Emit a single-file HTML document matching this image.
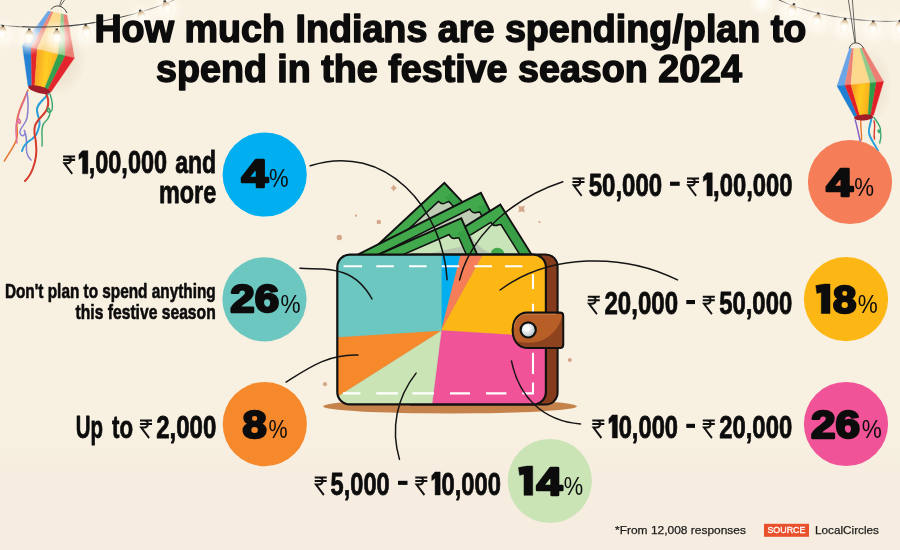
<!DOCTYPE html><html><head><meta charset="utf-8"><title>Festive spending 2024</title>
<style>html,body{margin:0;padding:0;background:#f8f0e1}svg{display:block;font-family:"Liberation Sans",sans-serif}</style></head><body>
<svg width="900" height="550" viewBox="0 0 900 550">
<defs>
<linearGradient id="bg" x1="0" y1="0" x2="0" y2="1"><stop offset="0" stop-color="#f8f0e1"/><stop offset="0.78" stop-color="#f8f0e1"/><stop offset="0.87" stop-color="#f6ede0"/><stop offset="1" stop-color="#f6ede0"/></linearGradient>
<radialGradient id="glow"><stop offset="0" stop-color="#ffffff" stop-opacity="1"/><stop offset="0.4" stop-color="#fffcf4" stop-opacity="0.75"/><stop offset="0.75" stop-color="#fffaf0" stop-opacity="0.3"/><stop offset="1" stop-color="#fffaf0" stop-opacity="0"/></radialGradient>
<radialGradient id="btn" cx="0.4" cy="0.38" r="0.7"><stop offset="0" stop-color="#ffffff"/><stop offset="0.5" stop-color="#dde5e9"/><stop offset="1" stop-color="#9fb1ba"/></radialGradient><clipPath id="wclip"><rect x="337" y="254" width="209" height="151" rx="13" ry="13"/></clipPath>
<g id="rs" fill="none" stroke="#111" stroke-width="2.05"><path d="M0,0.9H13.4M0,4.4H13.4M0,0.9H4.4C10.2,0.9 10.2,7.8 4.4,7.8H1.3L10.2,18.4"/></g>
</defs>
<rect width="900" height="550" fill="url(#bg)"/>
<g opacity="0.9999">
<defs><linearGradient id="bulbt" x1="0" y1="0" x2="0" y2="1"><stop offset="0" stop-color="#b98f5e" stop-opacity="0.75"/><stop offset="1" stop-color="#e9d3b0" stop-opacity="0"/></linearGradient><radialGradient id="bulbg" cx="0.5" cy="0.55" r="0.6"><stop offset="0" stop-color="#ffffff"/><stop offset="0.6" stop-color="#fffbf0"/><stop offset="1" stop-color="#f1e4cb"/></radialGradient><linearGradient id="lanY" x1="0" y1="0" x2="1" y2="0.2"><stop offset="0" stop-color="#f7941e"/><stop offset="0.55" stop-color="#ffcb1f"/><stop offset="1" stop-color="#fbb01c"/></linearGradient><radialGradient id="lsh"><stop offset="0" stop-color="#d9c7ae" stop-opacity="0.55"/><stop offset="1" stop-color="#d9c7ae" stop-opacity="0"/></radialGradient></defs>
<path d="M0,25 C20,27.5 45,28 60,27 C85,25 110,20 131,14.7 C148,10 162,5.5 174,0" fill="none" stroke="#3b3b3b" stroke-width="0.9"/>
<ellipse cx="60" cy="62" rx="26" ry="34" fill="url(#lsh)" transform="rotate(12 60 62)"/>
<path d="M28,90 C24,100 18,110 17,120 C16,128 19,134 16,141 C12,150 7,156 4.4,161" fill="none" stroke="#e8772e" stroke-width="1.6" stroke-linecap="round"/>
<path d="M27,92 C24,104 17,112 18,121 C19,126 22,122 19,119 C16,118 15,128 17,143" fill="none" stroke="#e06a9a" stroke-width="1.4" stroke-linecap="round"/>
<path d="M27,92 C29,104 28,112 27,118 C25,126 19,128 20,133 C22,139 27,134 24,130 C30,140 22,152 31,160" fill="none" stroke="#8a80d2" stroke-width="1.5" stroke-linecap="round"/>
<path d="M48,94 C44,100 36,104 37,111 C38,118 41,121 39,127 C37,134 36,136 32,139 C27,142 23,146 22,151" fill="none" stroke="#2aa0d8" stroke-width="2.0" stroke-linecap="round"/>
<path d="M45,92 C49,98 49,104 47,109 C44,116 37,119 35,126 C33,133 36,138 36,144 C37,152 36,160 33,168 C31,174 28,178 25,181" fill="none" stroke="#d7392b" stroke-width="2.0" stroke-linecap="round"/>
<path d="M50,94 C52,100 53,106 52,110 C50,114 46,112 48,108 C52,110 50,118 44,123 C40,128 43,138 42,146" fill="none" stroke="#3aa66a" stroke-width="1.4" stroke-linecap="round"/>
<g opacity="0.97"><polygon points="48.0,11.0 51.1,11.7 31.0,47.6 22.4,45.6" fill="#6aa5e8" stroke="#6aa5e8" stroke-width="0.3"/><polygon points="22.4,45.6 31.0,47.6 31.8,87.0 28.0,86.0" fill="#1f7fd3" stroke="#1f7fd3" stroke-width="0.3"/><polygon points="51.1,11.7 53.4,12.1 37.2,49.1 31.0,47.6" fill="#ec8277" stroke="#ec8277" stroke-width="0.3"/><polygon points="31.0,47.6 37.2,49.1 34.6,87.7 31.8,87.0" fill="#e21f27" stroke="#e21f27" stroke-width="0.3"/><polygon points="53.4,12.1 61.1,13.8 58.3,54.2 37.2,49.1" fill="#fcd98c" stroke="#fcd98c" stroke-width="0.3"/><polygon points="37.2,49.1 58.3,54.2 43.9,90.1 34.6,87.7" fill="url(#lanY)" stroke="#f9a51c" stroke-width="0.3"/><polygon points="61.1,13.8 63.7,14.3 65.3,55.8 58.3,54.2" fill="#8fca8b" stroke="#8fca8b" stroke-width="0.3"/><polygon points="58.3,54.2 65.3,55.8 47.0,91.0 43.9,90.1" fill="#2e9e49" stroke="#2e9e49" stroke-width="0.3"/><polygon points="63.7,14.3 67.0,15.0 74.4,58.0 65.3,55.8" fill="#eb7d73" stroke="#eb7d73" stroke-width="0.3"/><polygon points="65.3,55.8 74.4,58.0 51.0,92.0 47.0,91.0" fill="#e21f27" stroke="#e21f27" stroke-width="0.3"/></g>
<ellipse cx="39.5" cy="89.6" rx="11.5" ry="3.4" fill="#a01d2a" transform="rotate(14 39.5 89)"/>
<path d="M64.5,0 L60.5,5.8 M61.5,0 L59.5,5.8" stroke="#444" stroke-width="0.8" fill="none"/>
<path d="M51,9.5 C54,4.5 63,4 67,13" stroke="#444" stroke-width="1" fill="none"/>
<circle cx="2.4" cy="34" r="18" fill="url(#glow)"/><g transform="translate(2.4,32.4) rotate(4) scale(1.13)"><rect x="-1.1" y="-6.6" width="2.2" height="2" fill="#3a3a3a"/><path d="M-1.6,-4.8 C-4.4,-2 -4.8,3 -2.3,5.8 Q0,7.4 2.3,5.8 C4.8,3 4.4,-2 1.6,-4.8 Z" fill="url(#bulbg)"/><path d="M-1.6,-4.8 C-3,-3.4 -3.8,-1.8 -4.1,-0.2 H4.1 C3.8,-1.8 3,-3.4 1.6,-4.8 Z" fill="url(#bulbt)"/></g>
<circle cx="29" cy="37.5" r="18" fill="url(#glow)"/><g transform="translate(29,35.9) rotate(2) scale(1.13)"><rect x="-1.1" y="-6.6" width="2.2" height="2" fill="#3a3a3a"/><path d="M-1.6,-4.8 C-4.4,-2 -4.8,3 -2.3,5.8 Q0,7.4 2.3,5.8 C4.8,3 4.4,-2 1.6,-4.8 Z" fill="url(#bulbg)"/><path d="M-1.6,-4.8 C-3,-3.4 -3.8,-1.8 -4.1,-0.2 H4.1 C3.8,-1.8 3,-3.4 1.6,-4.8 Z" fill="url(#bulbt)"/></g>
<circle cx="57" cy="37.5" r="18" fill="url(#glow)"/><g transform="translate(57,35.9) rotate(-2) scale(1.13)"><rect x="-1.1" y="-6.6" width="2.2" height="2" fill="#3a3a3a"/><path d="M-1.6,-4.8 C-4.4,-2 -4.8,3 -2.3,5.8 Q0,7.4 2.3,5.8 C4.8,3 4.4,-2 1.6,-4.8 Z" fill="url(#bulbg)"/><path d="M-1.6,-4.8 C-3,-3.4 -3.8,-1.8 -4.1,-0.2 H4.1 C3.8,-1.8 3,-3.4 1.6,-4.8 Z" fill="url(#bulbt)"/></g>
<circle cx="86.5" cy="33" r="18" fill="url(#glow)"/><g transform="translate(86.5,31.4) rotate(-8) scale(1.13)"><rect x="-1.1" y="-6.6" width="2.2" height="2" fill="#3a3a3a"/><path d="M-1.6,-4.8 C-4.4,-2 -4.8,3 -2.3,5.8 Q0,7.4 2.3,5.8 C4.8,3 4.4,-2 1.6,-4.8 Z" fill="url(#bulbg)"/><path d="M-1.6,-4.8 C-3,-3.4 -3.8,-1.8 -4.1,-0.2 H4.1 C3.8,-1.8 3,-3.4 1.6,-4.8 Z" fill="url(#bulbt)"/></g>
<circle cx="142" cy="18.5" r="18" fill="url(#glow)"/><g transform="translate(142,16.9) rotate(-16) scale(1.13)"><rect x="-1.1" y="-6.6" width="2.2" height="2" fill="#3a3a3a"/><path d="M-1.6,-4.8 C-4.4,-2 -4.8,3 -2.3,5.8 Q0,7.4 2.3,5.8 C4.8,3 4.4,-2 1.6,-4.8 Z" fill="url(#bulbg)"/><path d="M-1.6,-4.8 C-3,-3.4 -3.8,-1.8 -4.1,-0.2 H4.1 C3.8,-1.8 3,-3.4 1.6,-4.8 Z" fill="url(#bulbt)"/></g>
<circle cx="166.9" cy="9" r="18" fill="url(#glow)"/><g transform="translate(166.9,7.4) rotate(-20) scale(1.13)"><rect x="-1.1" y="-6.6" width="2.2" height="2" fill="#3a3a3a"/><path d="M-1.6,-4.8 C-4.4,-2 -4.8,3 -2.3,5.8 Q0,7.4 2.3,5.8 C4.8,3 4.4,-2 1.6,-4.8 Z" fill="url(#bulbg)"/><path d="M-1.6,-4.8 C-3,-3.4 -3.8,-1.8 -4.1,-0.2 H4.1 C3.8,-1.8 3,-3.4 1.6,-4.8 Z" fill="url(#bulbt)"/></g>
<path d="M22,26.6 C45,28 75,26 95,22.5" fill="none" stroke="#3b3b3b" stroke-width="0.9"/>
<path d="M779,0 C790,5 803,9.5 817,13 C835,17 855,20 873,21 C885,21.6 893,21.5 900,21" fill="none" stroke="#3b3b3b" stroke-width="0.9"/>
<circle cx="762" cy="2" r="15" fill="url(#glow)"/>
<circle cx="792" cy="12" r="18" fill="url(#glow)"/><g transform="translate(792,10.4) rotate(18) scale(1.13)"><rect x="-1.1" y="-6.6" width="2.2" height="2" fill="#3a3a3a"/><path d="M-1.6,-4.8 C-4.4,-2 -4.8,3 -2.3,5.8 Q0,7.4 2.3,5.8 C4.8,3 4.4,-2 1.6,-4.8 Z" fill="url(#bulbg)"/><path d="M-1.6,-4.8 C-3,-3.4 -3.8,-1.8 -4.1,-0.2 H4.1 C3.8,-1.8 3,-3.4 1.6,-4.8 Z" fill="url(#bulbt)"/></g>
<circle cx="817" cy="21.5" r="18" fill="url(#glow)"/><g transform="translate(817,19.9) rotate(12) scale(1.13)"><rect x="-1.1" y="-6.6" width="2.2" height="2" fill="#3a3a3a"/><path d="M-1.6,-4.8 C-4.4,-2 -4.8,3 -2.3,5.8 Q0,7.4 2.3,5.8 C4.8,3 4.4,-2 1.6,-4.8 Z" fill="url(#bulbg)"/><path d="M-1.6,-4.8 C-3,-3.4 -3.8,-1.8 -4.1,-0.2 H4.1 C3.8,-1.8 3,-3.4 1.6,-4.8 Z" fill="url(#bulbt)"/></g>
<circle cx="844.4" cy="27" r="18" fill="url(#glow)"/><g transform="translate(844.4,25.4) rotate(6) scale(1.13)"><rect x="-1.1" y="-6.6" width="2.2" height="2" fill="#3a3a3a"/><path d="M-1.6,-4.8 C-4.4,-2 -4.8,3 -2.3,5.8 Q0,7.4 2.3,5.8 C4.8,3 4.4,-2 1.6,-4.8 Z" fill="url(#bulbg)"/><path d="M-1.6,-4.8 C-3,-3.4 -3.8,-1.8 -4.1,-0.2 H4.1 C3.8,-1.8 3,-3.4 1.6,-4.8 Z" fill="url(#bulbt)"/></g>
<circle cx="873" cy="29.5" r="18" fill="url(#glow)"/><g transform="translate(873,27.9) rotate(2) scale(1.13)"><rect x="-1.1" y="-6.6" width="2.2" height="2" fill="#3a3a3a"/><path d="M-1.6,-4.8 C-4.4,-2 -4.8,3 -2.3,5.8 Q0,7.4 2.3,5.8 C4.8,3 4.4,-2 1.6,-4.8 Z" fill="url(#bulbg)"/><path d="M-1.6,-4.8 C-3,-3.4 -3.8,-1.8 -4.1,-0.2 H4.1 C3.8,-1.8 3,-3.4 1.6,-4.8 Z" fill="url(#bulbt)"/></g>
<circle cx="900" cy="29" r="18" fill="url(#glow)"/><g transform="translate(900,27.4) rotate(0) scale(1.13)"><rect x="-1.1" y="-6.6" width="2.2" height="2" fill="#3a3a3a"/><path d="M-1.6,-4.8 C-4.4,-2 -4.8,3 -2.3,5.8 Q0,7.4 2.3,5.8 C4.8,3 4.4,-2 1.6,-4.8 Z" fill="url(#bulbg)"/><path d="M-1.6,-4.8 C-3,-3.4 -3.8,-1.8 -4.1,-0.2 H4.1 C3.8,-1.8 3,-3.4 1.6,-4.8 Z" fill="url(#bulbt)"/></g>
<ellipse cx="868" cy="86" rx="24" ry="38" fill="url(#lsh)"/>
<path d="M855.2,120 C857,126 858,131 859,136 C860,139 860,141 860.5,143" fill="none" stroke="#8a63c9" stroke-width="1.5" stroke-linecap="round"/>
<path d="M861,119 C860,126 862,132 861.5,140" fill="none" stroke="#e8772e" stroke-width="1.4" stroke-linecap="round"/>
<path d="M871.5,117.5 C871,124 868,128 869,133 C870,139 875,144 878,151" fill="none" stroke="#2aa0d8" stroke-width="2.0" stroke-linecap="round"/>
<path d="M874,121 C876,127 873,133 874.5,139" fill="none" stroke="#d7392b" stroke-width="1.4" stroke-linecap="round"/>
<path d="M874,117.5 C877,122 881,126 880.5,131 C880,134 877,132 878.5,130 C882,131 881,138 879.7,143" fill="none" stroke="#3aa66a" stroke-width="1.4" stroke-linecap="round"/>
<polygon points="849.4,48.6 851.9,48.5 844.9,85.2 837.0,86.0" fill="#6aa5e8" stroke="#6aa5e8" stroke-width="0.3"/><polygon points="837.0,86.0 844.9,85.2 857.5,116.5 854.2,116.8" fill="#1f7fd3" stroke="#1f7fd3" stroke-width="0.3"/><polygon points="851.9,48.5 853.8,48.4 851.0,84.7 844.9,85.2" fill="#ec8277" stroke="#ec8277" stroke-width="0.3"/><polygon points="844.9,85.2 851.0,84.7 860.0,116.3 857.5,116.5" fill="#e21f27" stroke="#e21f27" stroke-width="0.3"/><polygon points="853.8,48.4 859.8,48.2 870.1,82.8 851.0,84.7" fill="#fcd98c" stroke="#fcd98c" stroke-width="0.3"/><polygon points="851.0,84.7 870.1,82.8 868.0,115.7 860.0,116.3" fill="url(#lanY)" stroke="#f9a51c" stroke-width="0.3"/><polygon points="859.8,48.2 861.7,48.1 876.4,82.2 870.1,82.8" fill="#8fca8b" stroke="#8fca8b" stroke-width="0.3"/><polygon points="870.1,82.8 876.4,82.2 870.6,115.4 868.0,115.7" fill="#2e9e49" stroke="#2e9e49" stroke-width="0.3"/><polygon points="861.7,48.1 864.0,48.0 883.6,81.5 876.4,82.2" fill="#eb7d73" stroke="#eb7d73" stroke-width="0.3"/><polygon points="876.4,82.2 883.6,81.5 873.6,115.2 870.6,115.4" fill="#e21f27" stroke="#e21f27" stroke-width="0.3"/>
<ellipse cx="863.6" cy="117.4" rx="9.6" ry="3" fill="#a01d2a" transform="rotate(-4 863.6 117)"/>
<path d="M848.4,0 L855,43 M852.4,0 L855.6,43" stroke="#444" stroke-width="0.8" fill="none"/>
<path d="M849.2,48.6 C851,41 860,41 863.6,48.2" stroke="#444" stroke-width="1" fill="none"/>
<circle cx="355.9" cy="215.7" r="1.1" fill="#d5a88b"/>
<circle cx="378.8" cy="222" r="2.3" fill="#d5a88b"/>
<circle cx="339.3" cy="237.5" r="2.7" fill="#d5a88b"/>
<circle cx="539.5" cy="222" r="1.1" fill="#d5a88b"/>
<circle cx="569.8" cy="360" r="2.1" fill="#d5a88b"/>
<circle cx="325" cy="384.2" r="2.1" fill="#d5a88b"/>
<path transform="translate(393.7,188) rotate(0)" d="M0,-3.4 Q1.02,-1.02 3.4,0 Q1.02,1.02 0,3.4 Q-1.02,1.02 -3.4,0 Q-1.02,-1.02 0,-3.4Z" fill="#d5a88b"/>
<path transform="translate(521.6,209) rotate(45)" d="M0,-5.0 Q1.0,-1.0 5.0,0 Q1.0,1.0 0,5.0 Q-1.0,1.0 -5.0,0 Q-1.0,-1.0 0,-5.0Z" fill="#d5a88b"/>
<text x="94.4" y="42.3" font-size="38.8" font-weight="bold" fill="#0c0c0c" text-anchor="start" textLength="712.0" lengthAdjust="spacingAndGlyphs" stroke="#0c0c0c" stroke-width="1.5" stroke-linejoin="round">How much Indians are spending/plan to</text>
<text x="156.0" y="81.9" font-size="38.8" font-weight="bold" fill="#0c0c0c" text-anchor="start" textLength="586.0" lengthAdjust="spacingAndGlyphs" stroke="#0c0c0c" stroke-width="1.5" stroke-linejoin="round">spend in the festive season 2024</text>
<circle cx="264.7" cy="174.5" r="42.1" fill="#00aeef"/>
<text x="241.6" y="187.2" font-size="38.8" font-weight="bold" fill="#0c0c0c" text-anchor="start" textLength="26.6" lengthAdjust="spacingAndGlyphs" stroke="#0c0c0c" stroke-width="2.4" stroke-linejoin="round">4</text>
<text x="268.9" y="187.3" font-size="25.2" font-weight="normal" fill="#0c0c0c" text-anchor="start" textLength="19.6" lengthAdjust="spacingAndGlyphs">%</text>
<circle cx="264.5" cy="299.3" r="42.1" fill="#6cc7c0"/>
<text x="230.3" y="312.4" font-size="38.8" font-weight="bold" fill="#0c0c0c" text-anchor="start" textLength="48.8" lengthAdjust="spacingAndGlyphs" stroke="#0c0c0c" stroke-width="2.4" stroke-linejoin="round">26</text>
<text x="280.4" y="312.5" font-size="25.2" font-weight="normal" fill="#0c0c0c" text-anchor="start" textLength="20.1" lengthAdjust="spacingAndGlyphs">%</text>
<circle cx="264.8" cy="424.1" r="42.1" fill="#f7892d"/>
<text x="242.5" y="437.5" font-size="38.8" font-weight="bold" fill="#0c0c0c" text-anchor="start" textLength="24.2" lengthAdjust="spacingAndGlyphs" stroke="#0c0c0c" stroke-width="2.4" stroke-linejoin="round">8</text>
<text x="268.4" y="437.6" font-size="25.2" font-weight="normal" fill="#0c0c0c" text-anchor="start" textLength="19.1" lengthAdjust="spacingAndGlyphs">%</text>
<circle cx="549.8" cy="481" r="42.1" fill="#cae4b6"/>
<polygon points="518.50,467.59 527.10,466.10 532.70,466.10 532.70,495.30 524.00,495.30 524.00,474.24 519.60,475.34" fill="#0c0c0c" stroke="#0c0c0c" stroke-width="0.5" stroke-linejoin="round"/>
<text x="536.4" y="494.7" font-size="38.8" font-weight="bold" fill="#0c0c0c" text-anchor="start" textLength="25.9" lengthAdjust="spacingAndGlyphs" stroke="#0c0c0c" stroke-width="2.4" stroke-linejoin="round">4</text>
<text x="563.8" y="494.8" font-size="25.2" font-weight="normal" fill="#0c0c0c" text-anchor="start" textLength="19.4" lengthAdjust="spacingAndGlyphs">%</text>
<circle cx="850" cy="182" r="42.1" fill="#f57d58"/>
<text x="826.2" y="195.6" font-size="38.8" font-weight="bold" fill="#0c0c0c" text-anchor="start" textLength="26.7" lengthAdjust="spacingAndGlyphs" stroke="#0c0c0c" stroke-width="2.4" stroke-linejoin="round">4</text>
<text x="854.3" y="195.7" font-size="25.2" font-weight="normal" fill="#0c0c0c" text-anchor="start" textLength="19.8" lengthAdjust="spacingAndGlyphs">%</text>
<circle cx="846" cy="299.2" r="42.1" fill="#fdb715"/>
<polygon points="815.80,285.60 824.40,284.10 830.00,284.10 830.00,313.50 821.30,313.50 821.30,292.30 816.90,293.40" fill="#0c0c0c" stroke="#0c0c0c" stroke-width="0.5" stroke-linejoin="round"/>
<text x="832.9" y="312.9" font-size="38.8" font-weight="bold" fill="#0c0c0c" text-anchor="start" textLength="23.4" lengthAdjust="spacingAndGlyphs" stroke="#0c0c0c" stroke-width="2.4" stroke-linejoin="round">8</text>
<text x="857.7" y="313.0" font-size="25.2" font-weight="normal" fill="#0c0c0c" text-anchor="start" textLength="20.0" lengthAdjust="spacingAndGlyphs">%</text>
<circle cx="846" cy="424" r="42.1" fill="#f05398"/>
<text x="811.1" y="437.7" font-size="38.8" font-weight="bold" fill="#0c0c0c" text-anchor="start" textLength="49.0" lengthAdjust="spacingAndGlyphs" stroke="#0c0c0c" stroke-width="2.4" stroke-linejoin="round">26</text>
<text x="861.7" y="437.8" font-size="25.2" font-weight="normal" fill="#0c0c0c" text-anchor="start" textLength="20.0" lengthAdjust="spacingAndGlyphs">%</text>
<g>
<g transform="matrix(-0.7314,0.6820,0.6820,0.7314,444.4,182.8)"><rect x="0" y="0" width="120" height="70" fill="#41a84c" stroke="#111" stroke-width="2" stroke-linejoin="miter"/><rect x="0.8" y="11.4" width="8.6" height="70" fill="#2f9440" opacity="0.45"/><path d="M120,9.5 H17.0 Q17.3,15.0 11.7,15.7 L9.5,16.7 V70 H120 Z" fill="#bfcdb5" stroke="#111" stroke-width="1.5" stroke-linejoin="round"/></g>
<g transform="matrix(-0.8942,0.4478,0.4478,0.8942,480.9,192.9)"><rect x="0" y="0" width="140" height="70" fill="#41a84c" stroke="#111" stroke-width="2" stroke-linejoin="miter"/><rect x="0.8" y="11.4" width="8.6" height="70" fill="#2f9440" opacity="0.45"/><path d="M140,9.5 H17.0 Q17.3,15.0 11.7,15.7 L9.5,16.7 V70 H140 Z" fill="#bfcdb5" stroke="#111" stroke-width="1.5" stroke-linejoin="round"/></g>
<g transform="matrix(-0.8480,0.5299,0.5299,0.8480,500.3,204.6)"><rect x="0" y="0" width="120" height="70" fill="#41a84c" stroke="#111" stroke-width="2" stroke-linejoin="miter"/><rect x="0.8" y="12.0" width="9.0" height="70" fill="#2f9440" opacity="0.45"/><path d="M120,10 H17.5 Q17.8,15.5 12.2,16.2 L10,17.2 V70 H120 Z" fill="#c9e4b8" stroke="#111" stroke-width="1.5" stroke-linejoin="round"/><circle cx="29" cy="41" r="7" fill="#41a84c"/></g>
<path d="M468.6,236.6 L471.2,235.2 C474.5,243 482,250 493,254 L478.5,254 C474,249 471,243 468.6,236.6 Z" fill="#b7c6ae"/>
<g transform="matrix(-0.9164,0.4003,0.4003,0.9164,461.3,218.3)"><rect x="0" y="0" width="110" height="60" fill="#41a84c" stroke="#111" stroke-width="2" stroke-linejoin="miter"/><rect x="0.8" y="12.0" width="9.0" height="60" fill="#2f9440" opacity="0.45"/><path d="M110,10 H17.5 Q17.8,15.5 12.2,16.2 L10,17.2 V60 H110 Z" fill="#c9e4b8" stroke="#111" stroke-width="1.5" stroke-linejoin="round"/></g>
<path d="M427,254 L461.6,246.6 L464.8,254 Z" fill="#b7c6ae"/>
</g>
<ellipse cx="450" cy="406.3" rx="127" ry="7.2" fill="#c5824a"/>
<rect x="400" y="254.4" width="157.6" height="150.2" rx="12" ry="12" fill="#853c1c" stroke="#111" stroke-width="2"/>
<g clip-path="url(#wclip)">
<rect x="330" y="250" width="225" height="160" fill="#6cc7c0"/>
<polygon points="441.3,330.5 441.3,130.5 453.9,130.9 466.4,132.1 478.8,134.0 491.0,136.8" fill="#00aeef" stroke="#00aeef" stroke-width="0.4"/>
<polygon points="441.3,330.5 491.0,136.8 503.1,140.3 514.9,144.5 526.5,149.5 537.7,155.2" fill="#f57d58" stroke="#f57d58" stroke-width="0.4"/>
<polygon points="441.3,330.5 537.7,155.2 548.5,161.6 558.9,168.7 568.8,176.4 578.2,184.7 587.1,193.6 595.4,203.0 603.1,212.9 610.2,223.3 616.6,234.1 622.3,245.3 627.3,256.9 631.5,268.7 635.0,280.8 637.8,293.0 639.7,305.4 640.9,317.9 641.3,330.5 640.9,343.1" fill="#fdb715" stroke="#fdb715" stroke-width="0.4"/>
<polygon points="441.3,330.5 640.9,343.1 639.7,355.6 637.8,368.0 635.0,380.2 631.5,392.3 627.3,404.1 622.3,415.7 616.6,426.9 610.2,437.7 603.1,448.1 595.4,458.0 587.1,467.4 578.2,476.3 568.8,484.6 558.9,492.3 548.5,499.4 537.7,505.8 526.5,511.5 514.9,516.5 503.1,520.7 491.0,524.2 478.8,527.0 466.4,528.9 453.9,530.1 441.3,530.5 428.7,530.1 416.2,528.9" fill="#f05398" stroke="#f05398" stroke-width="0.4"/>
<polygon points="441.3,330.5 416.2,528.9 403.8,527.0 391.6,524.2 379.5,520.7 367.7,516.5 356.1,511.5 344.9,505.8 334.1,499.4 323.7,492.3 313.8,484.6 304.4,476.3 295.5,467.4 287.2,458.0 279.5,448.1 272.4,437.7" fill="#cae4b6" stroke="#cae4b6" stroke-width="0.4"/>
<polygon points="441.3,330.5 272.4,437.7 266.0,426.9 260.3,415.7 255.3,404.1 251.1,392.3 247.6,380.2 244.8,368.0 242.9,355.6 241.7,343.1" fill="#f7892d" stroke="#f7892d" stroke-width="0.4"/>
<polygon points="441.3,330.5 241.7,343.1 241.3,330.5 241.7,317.9 242.9,305.4 244.8,293.0 247.6,280.8 251.1,268.7 255.3,256.9 260.3,245.3 266.0,234.1 272.4,223.3 279.5,212.9 287.2,203.0 295.5,193.6 304.4,184.7 313.8,176.4 323.7,168.7 334.1,161.6 344.9,155.2 356.1,149.5 367.7,144.5 379.5,140.3 391.6,136.8 403.8,134.0 416.2,132.1 428.7,130.9 441.3,130.5" fill="#6cc7c0" stroke="#6cc7c0" stroke-width="0.4"/>
</g>
<rect x="337.3" y="254.6" width="208.6" height="149.8" rx="12.5" ry="12.5" fill="none" stroke="#111" stroke-width="2.2"/>
<path d="M343.6,266.2H362M376.3,266.2H393.8M409,266.2H426.5M441.7,266.2H459.2M474.4,266.2H491.9M505,266.2H522.4M343,393.4H360.5M376.3,393.4H398M412.4,393.4H434M450,393.4H470M486,393.4H506.4M522.3,393.4H533M533,274.3V289M533,303.8V312M533,352.8V374M533,382.5V394.4" stroke="#fff" stroke-width="2.1" fill="none"/>
<path d="M527,312.6 H560 Q563.2,312.6 563.2,315.8 V344.7 Q563.2,347.9 560,347.9 H527 C518,347.9 512.6,340 512.6,330.2 C512.6,320.5 518,312.6 527,312.6 Z" fill="#b85f28" stroke="#111" stroke-width="2.1"/>
<path d="M562.1,316.5 V344.6 Q562.1,346.8 559.8,346.8 H528 Q521,346.4 517,341.5 Q536,345.5 548,337 Q559,329 562.1,316.5 Z" fill="#8e431f"/>
<path d="M514.2,327 C515,319 520,314.3 527,314.2 H556" fill="none" stroke="#d08a58" stroke-width="0.9" opacity="0.8"/>
<circle cx="528.2" cy="329.9" r="7.6" fill="url(#btn)" stroke="#111" stroke-width="2.2"/>
<circle cx="526.6" cy="328.2" r="3.4" fill="#fff" opacity="0.9"/>
<path d="M310.2,165.8C386.0,141.3 443.2,208.9 447.1,279.8" fill="none" stroke="#151515" stroke-width="1.5" stroke-linecap="round"/>
<path d="M562.8,181.7C517.1,196.8 471.8,231.3 459.6,279.9" fill="none" stroke="#151515" stroke-width="1.5" stroke-linecap="round"/>
<path d="M300.0,268.3C331.8,269.0 354.8,267.8 372.0,299.0" fill="none" stroke="#151515" stroke-width="1.5" stroke-linecap="round"/>
<path d="M677.5,279.9C623.4,252.9 549.6,253.3 500.1,290.0" fill="none" stroke="#151515" stroke-width="1.5" stroke-linecap="round"/>
<path d="M286.1,382.1C309.9,367.1 328.2,354.1 357.9,355.1" fill="none" stroke="#151515" stroke-width="1.5" stroke-linecap="round"/>
<path d="M399.5,459.4C390.5,428.6 396.4,398.1 416.1,373.1" fill="none" stroke="#151515" stroke-width="1.5" stroke-linecap="round"/>
<path d="M580.5,424.0C543.4,421.1 518.8,397.4 511.5,360.9" fill="none" stroke="#151515" stroke-width="1.5" stroke-linecap="round"/>
<use href="#rs" transform="translate(63.1,155.5) scale(0.896,0.995)"/>
<polygon points="82.40,150.70 87.90,150.70 87.90,173.80 82.50,173.80 82.50,157.10 78.90,159.50 78.90,154.60" fill="#0c0c0c" stroke="#0c0c0c" stroke-width="0.4" stroke-linejoin="round"/>
<text x="88.7" y="173.4" font-size="31.9" font-weight="bold" fill="#0c0c0c" text-anchor="start" textLength="78.4" lengthAdjust="spacingAndGlyphs" stroke="#0c0c0c" stroke-width="0.8" stroke-linejoin="round">,00,000</text>
<text x="175.2" y="173.4" font-size="31.9" font-weight="bold" fill="#0c0c0c" text-anchor="start" textLength="41.0" lengthAdjust="spacingAndGlyphs" stroke="#0c0c0c" stroke-width="0.8" stroke-linejoin="round">and</text>
<text x="158.9" y="203.4" font-size="31.9" font-weight="bold" fill="#0c0c0c" text-anchor="start" textLength="57.3" lengthAdjust="spacingAndGlyphs" stroke="#0c0c0c" stroke-width="0.8" stroke-linejoin="round">more</text>
<text x="4.9" y="297.5" font-size="20.6" font-weight="bold" fill="#0c0c0c" text-anchor="start" textLength="210.8" lengthAdjust="spacingAndGlyphs" stroke="#0c0c0c" stroke-width="0.6" stroke-linejoin="round">Don't plan to spend anything</text>
<text x="75.6" y="319.2" font-size="20.6" font-weight="bold" fill="#0c0c0c" text-anchor="start" textLength="140.1" lengthAdjust="spacingAndGlyphs" stroke="#0c0c0c" stroke-width="0.6" stroke-linejoin="round">this festive season</text>
<text x="75.8" y="437.6" font-size="31.9" font-weight="bold" fill="#0c0c0c" text-anchor="start" textLength="27.2" lengthAdjust="spacingAndGlyphs" stroke="#0c0c0c" stroke-width="0.8" stroke-linejoin="round">Up</text>
<text x="112.0" y="437.6" font-size="31.9" font-weight="bold" fill="#0c0c0c" text-anchor="start" textLength="21.0" lengthAdjust="spacingAndGlyphs" stroke="#0c0c0c" stroke-width="0.8" stroke-linejoin="round">to</text>
<use href="#rs" transform="translate(140.0,419.7) scale(0.896,0.995)"/>
<text x="156.2" y="437.6" font-size="31.9" font-weight="bold" fill="#0c0c0c" text-anchor="start" textLength="60.1" lengthAdjust="spacingAndGlyphs" stroke="#0c0c0c" stroke-width="0.8" stroke-linejoin="round">2,000</text>
<use href="#rs" transform="translate(314.7,476.7) scale(0.896,0.995)"/>
<text x="330.6" y="494.6" font-size="31.9" font-weight="bold" fill="#0c0c0c" text-anchor="start" textLength="59.1" lengthAdjust="spacingAndGlyphs" stroke="#0c0c0c" stroke-width="0.8" stroke-linejoin="round">5,000</text>
<rect x="398.0" y="480.8" width="9.5" height="4.1" fill="#0c0c0c"/>
<use href="#rs" transform="translate(415.3,476.7) scale(0.896,0.995)"/>
<polygon points="435.01,471.90 440.20,471.90 440.20,495.00 435.10,495.00 435.10,478.30 431.70,480.70 431.70,475.80" fill="#0c0c0c" stroke="#0c0c0c" stroke-width="0.4" stroke-linejoin="round"/>
<text x="441.5" y="494.6" font-size="31.9" font-weight="bold" fill="#0c0c0c" text-anchor="start" textLength="59.5" lengthAdjust="spacingAndGlyphs" stroke="#0c0c0c" stroke-width="0.8" stroke-linejoin="round">0,000</text>
<use href="#rs" transform="translate(572.5,177.6) scale(0.896,0.995)"/>
<text x="588.7" y="195.5" font-size="31.9" font-weight="bold" fill="#0c0c0c" text-anchor="start" textLength="73.5" lengthAdjust="spacingAndGlyphs" stroke="#0c0c0c" stroke-width="0.8" stroke-linejoin="round">50,000</text>
<rect x="670.0" y="181.7" width="9.7" height="4.1" fill="#0c0c0c"/>
<use href="#rs" transform="translate(687.0,177.6) scale(0.896,0.995)"/>
<polygon points="706.80,172.80 712.30,172.80 712.30,195.90 706.90,195.90 706.90,179.20 703.30,181.60 703.30,176.70" fill="#0c0c0c" stroke="#0c0c0c" stroke-width="0.4" stroke-linejoin="round"/>
<text x="713.1" y="195.5" font-size="31.9" font-weight="bold" fill="#0c0c0c" text-anchor="start" textLength="79.4" lengthAdjust="spacingAndGlyphs" stroke="#0c0c0c" stroke-width="0.8" stroke-linejoin="round">,00,000</text>
<use href="#rs" transform="translate(587.8,295.9) scale(0.896,0.995)"/>
<text x="604.5" y="313.8" font-size="31.9" font-weight="bold" fill="#0c0c0c" text-anchor="start" textLength="73.5" lengthAdjust="spacingAndGlyphs" stroke="#0c0c0c" stroke-width="0.8" stroke-linejoin="round">20,000</text>
<rect x="686.3" y="300.0" width="8.7" height="4.1" fill="#0c0c0c"/>
<use href="#rs" transform="translate(702.8,295.9) scale(0.896,0.995)"/>
<text x="719.2" y="313.8" font-size="31.9" font-weight="bold" fill="#0c0c0c" text-anchor="start" textLength="73.0" lengthAdjust="spacingAndGlyphs" stroke="#0c0c0c" stroke-width="0.8" stroke-linejoin="round">50,000</text>
<use href="#rs" transform="translate(592.3,419.7) scale(0.896,0.995)"/>
<polygon points="612.21,414.90 617.40,414.90 617.40,438.00 612.30,438.00 612.30,421.30 608.90,423.70 608.90,418.80" fill="#0c0c0c" stroke="#0c0c0c" stroke-width="0.4" stroke-linejoin="round"/>
<text x="618.7" y="437.6" font-size="31.9" font-weight="bold" fill="#0c0c0c" text-anchor="start" textLength="59.3" lengthAdjust="spacingAndGlyphs" stroke="#0c0c0c" stroke-width="0.8" stroke-linejoin="round">0,000</text>
<rect x="686.3" y="423.8" width="8.7" height="4.1" fill="#0c0c0c"/>
<use href="#rs" transform="translate(702.8,419.7) scale(0.896,0.995)"/>
<text x="719.2" y="437.6" font-size="31.9" font-weight="bold" fill="#0c0c0c" text-anchor="start" textLength="73.0" lengthAdjust="spacingAndGlyphs" stroke="#0c0c0c" stroke-width="0.8" stroke-linejoin="round">20,000</text>
<text x="615.0" y="534.3" font-size="11.2" font-weight="normal" fill="#1c1c1c" text-anchor="start" textLength="131.0" lengthAdjust="spacingAndGlyphs" stroke="#1c1c1c" stroke-width="0.25">*From 12,008 responses</text>
<rect x="764" y="523.8" width="45" height="13" fill="#e8512c"/>
<text x="767.4" y="533.4" font-size="9.6" font-weight="normal" fill="#fff" text-anchor="start" textLength="38.0" lengthAdjust="spacingAndGlyphs" stroke="#fff" stroke-width="0.3">SOURCE</text>
<text x="815.0" y="534.3" font-size="11.4" font-weight="normal" fill="#1c1c1c" text-anchor="start" textLength="64.0" lengthAdjust="spacingAndGlyphs" stroke="#1c1c1c" stroke-width="0.25">LocalCircles</text>
</g>
</svg></body></html>
